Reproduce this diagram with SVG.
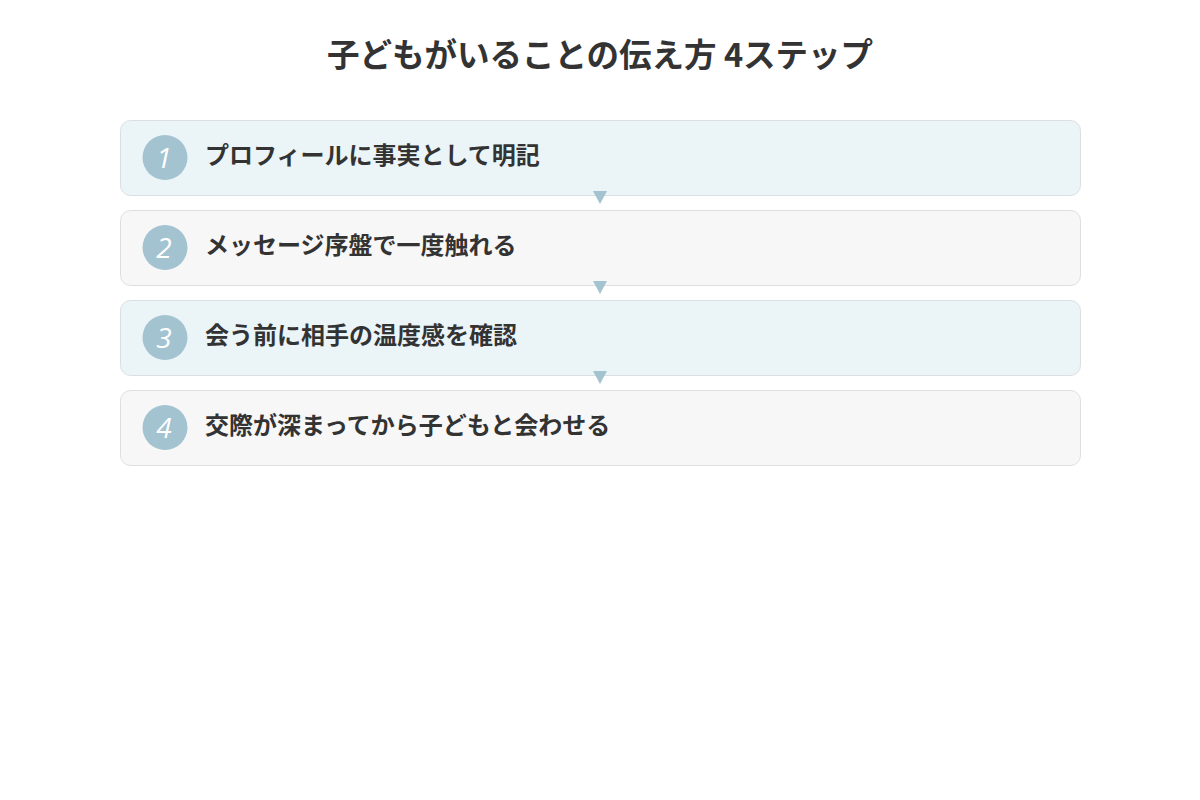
<svg xmlns="http://www.w3.org/2000/svg" width="1200" height="800" viewBox="0 0 1200 800">
<style>
.box{stroke:#dcdfe1;stroke-width:1}
.a{fill:#ebf4f7}
.b{fill:#f7f7f7}
.c{fill:#a3c3d1}
.n{font-family:"Open Sans","Liberation Sans",sans-serif;font-style:italic;font-size:28px;fill:#ffffff;text-anchor:middle}
.t{font-family:"Noto Sans CJK JP",sans-serif;font-weight:bold;font-size:24px;fill:#333333}
.h{font-family:"Noto Sans CJK JP",sans-serif;font-weight:bold;font-size:32.5px;fill:#333333;text-anchor:middle}
.arr{fill:#a3c3d1}
</style>
<rect width="1200" height="800" fill="#ffffff"/>
<text class="h" x="600" y="67">子どもがいることの伝え方 4ステップ</text>
<g id="step1">
<rect class="box a" x="120.5" y="120.5" width="960" height="75" rx="10"/>
<circle class="c" cx="165" cy="157.5" r="22.5"/>
<text class="n" x="164" y="167.5">1</text>
<text class="t" x="205" y="164">プロフィールに事実として明記</text>
</g>
<g id="step2">
<rect class="box b" x="120.5" y="210.5" width="960" height="75" rx="10"/>
<circle class="c" cx="165" cy="247.5" r="22.5"/>
<text class="n" x="164" y="257.5">2</text>
<text class="t" x="205" y="254">メッセージ序盤で一度触れる</text>
</g>
<g id="step3">
<rect class="box a" x="120.5" y="300.5" width="960" height="75" rx="10"/>
<circle class="c" cx="165" cy="337.5" r="22.5"/>
<text class="n" x="164" y="347.5">3</text>
<text class="t" x="205" y="344">会う前に相手の温度感を確認</text>
</g>
<g id="step4">
<rect class="box b" x="120.5" y="390.5" width="960" height="75" rx="10"/>
<circle class="c" cx="165" cy="427.5" r="22.5"/>
<text class="n" x="164" y="437.5">4</text>
<text class="t" x="205" y="434">交際が深まってから子どもと会わせる</text>
</g>
<g id="connectors">
<polygon class="arr" points="593,191 607,191 600,204"/>
<polygon class="arr" points="593,281 607,281 600,294"/>
<polygon class="arr" points="593,371 607,371 600,384"/>
</g>
</svg>
